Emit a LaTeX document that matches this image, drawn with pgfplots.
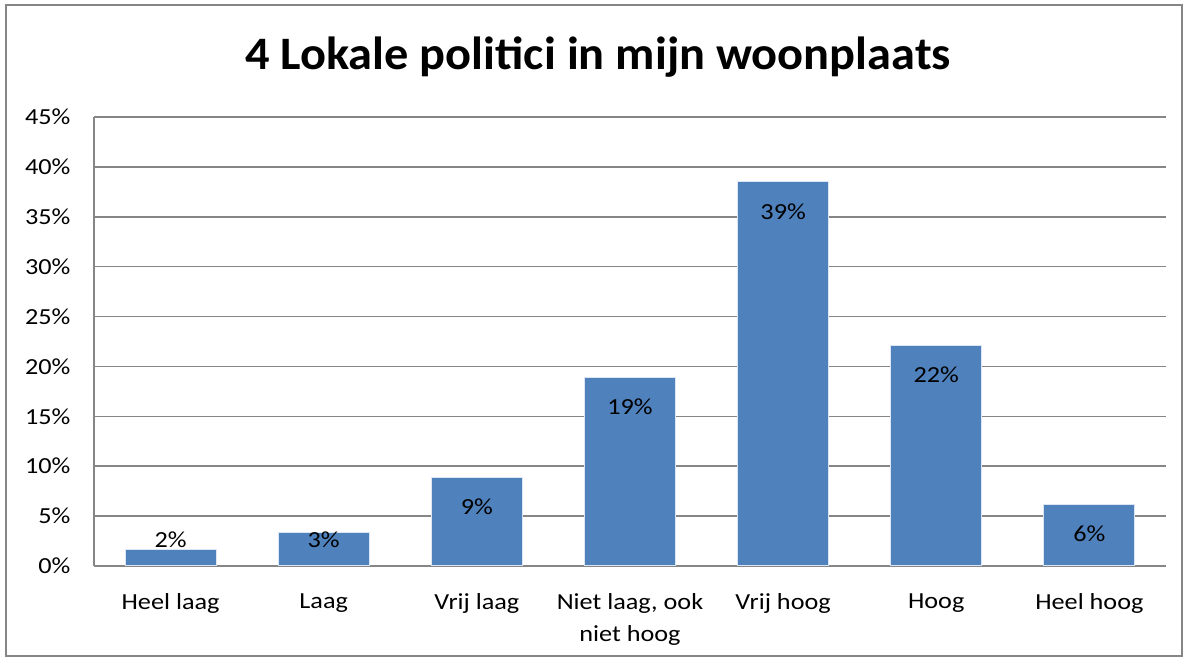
\documentclass[border=0pt]{standalone}
\usepackage{pgfplots}
\pgfplotsset{compat=1.18}
\usepackage{fontspec}
\setmainfont{Carlito}
\newfontfamily\labfont[FakeStretch=1.14]{Carlito}
\newfontfamily\titlefont[FakeStretch=1.04]{Carlito}
\definecolor{barblue}{HTML}{4F81BD}
\definecolor{gridgray}{HTML}{868686}

\begin{document}
\begin{tikzpicture}
\useasboundingbox (0pt,0pt) rectangle (1187pt,661pt);
\fill[white] (0pt,0pt) rectangle (1187pt,661pt);
\draw[gridgray, line width=2pt] (6pt,5pt) rectangle (1182pt,656pt);
\node[font=\titlefont\fontsize{46.5}{50}\selectfont\bfseries] at (598pt,604pt) {4 Lokale politici in mijn woonplaats};
\begin{axis}[
    at={(94pt,95pt)}, anchor=south west,
    scale only axis,
    width=1072pt, height=449pt,
    xmin=-0.5, xmax=6.5,
    ymin=0, ymax=45,
    ytick={0,5,...,45},
    yticklabel={\pgfmathprintnumber{\tick}\%},
    /pgf/number format/assume math mode=true,
    xtick={0,...,6},
    xticklabels={Heel laag, Laag, Vrij laag, {Niet laag, ook\\niet hoog}, Vrij hoog, Hoog, Heel hoog},
    xticklabel style={align=center, font=\labfont\fontsize{23}{32}\selectfont, yshift=-24pt},
    yticklabel style={font=\labfont\fontsize{23}{26}\selectfont, xshift=-20pt},
    major tick length=0pt,
    axis lines*=left,
    axis line style={gridgray, line width=1.5pt, -},
    ymajorgrids,
    major grid style={gridgray, line width=1.5pt},
    bar width=91pt,
    clip=false,
]
\addplot[ybar, fill=barblue, draw=white!80!barblue, line width=1pt] coordinates {
    (0,1.7) (1,3.4) (2,8.9) (3,18.9) (4,38.5) (5,22.1) (6,6.2)
};
\addplot[draw=none, mark=none,
    nodes near coords, point meta=explicit symbolic,
    every node near coord/.style={anchor=center, font=\labfont\fontsize{23}{26}\selectfont, black}]
coordinates {
    (0,2.6) [2\%] (1,2.6) [3\%] (2,5.95) [9\%] (3,15.95) [19\%]
    (4,35.55) [39\%] (5,19.15) [22\%] (6,3.25) [6\%]
};
\end{axis}
\end{tikzpicture}
\end{document}
